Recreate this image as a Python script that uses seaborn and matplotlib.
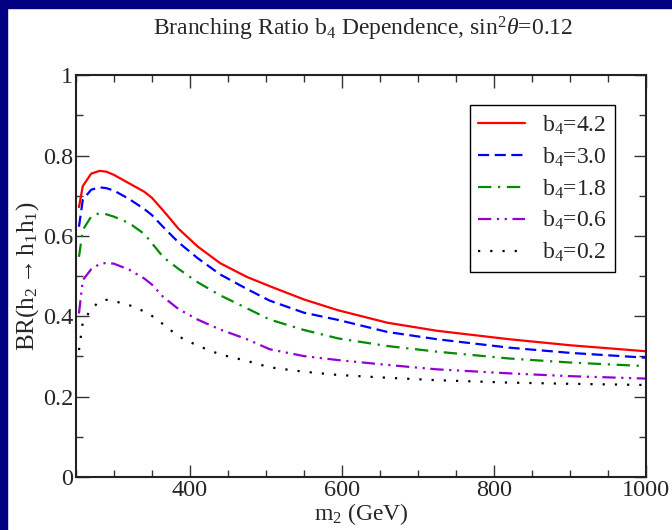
import numpy as np
import pandas as pd
import matplotlib
matplotlib.use("Agg")
import matplotlib.pyplot as plt
from matplotlib.patches import Rectangle
from matplotlib.ticker import MultipleLocator, FuncFormatter
import seaborn as sns

# m2 (GeV) grid shared by all curves
m2 = [254, 259, 270, 281, 290, 300, 320, 340, 350, 365, 385, 410, 440, 475,
      505, 550, 595, 660, 725, 820, 900, 1000]

# BR(h2 -> h1 h1)
br_42 = [0.672, 0.724, 0.755, 0.762, 0.760, 0.752, 0.731, 0.710, 0.695, 0.663, 0.618,
         0.574, 0.532, 0.498, 0.475, 0.442, 0.415, 0.384, 0.364, 0.343, 0.328, 0.313]
br_30 = [0.623, 0.690, 0.715, 0.721, 0.719, 0.713, 0.692, 0.667, 0.652, 0.622, 0.584,
         0.545, 0.504, 0.468, 0.439, 0.409, 0.391, 0.361, 0.343, 0.322, 0.309, 0.297]
br_18 = [0.548, 0.615, 0.648, 0.657, 0.654, 0.648, 0.632, 0.605, 0.582, 0.547, 0.518,
         0.485, 0.452, 0.420, 0.392, 0.366, 0.345, 0.326, 0.312, 0.295, 0.285, 0.276]
br_06 = [0.407, 0.490, 0.517, 0.530, 0.533, 0.531, 0.516, 0.494, 0.479, 0.448, 0.418,
         0.392, 0.367, 0.343, 0.318, 0.301, 0.291, 0.279, 0.268, 0.258, 0.251, 0.245]
br_02 = [0.316, 0.385, 0.418, 0.437, 0.441, 0.438, 0.428, 0.412, 0.401, 0.380, 0.350,
         0.327, 0.305, 0.289, 0.273, 0.262, 0.254, 0.247, 0.241, 0.235, 0.232, 0.229]

labels = ["b$_4$=4.2", "b$_4$=3.0", "b$_4$=1.8", "b$_4$=0.6", "b$_4$=0.2"]
series = [br_42, br_30, br_18, br_06, br_02]
colors = ["#ff0000", "#0000ff", "#008b00", "#9400d3", "#000000"]
dashes = ["-", (0, (5, 2.5)), (0, (6, 3, 1, 3)), (0, (6, 2.5, 1, 2.5, 1, 2.5)), (0, (1, 4.5))]

sns.set_style("ticks")
plt.rcParams["font.family"] = ["Liberation Serif", "DejaVu Serif"]
plt.rcParams["mathtext.fontset"] = "custom"
plt.rcParams["mathtext.rm"] = "Liberation Serif"
plt.rcParams["mathtext.it"] = "Liberation Serif:italic"

fig = plt.figure(figsize=(6.72, 5.30), dpi=100)
ax = fig.add_axes([0.113, 0.1, 0.848, 0.758])

for lab, ys, c, ls in zip(labels, series, colors, dashes):
    df = pd.DataFrame({"m2": m2, "br": ys})
    sns.lineplot(data=df, x="m2", y="br", ax=ax, color=c, linestyle=ls,
                 linewidth=1.6, label=lab)

ax.set_xlim(250, 1000)
ax.set_ylim(0, 1)
ax.xaxis.set_major_locator(MultipleLocator(200))
ax.xaxis.set_minor_locator(MultipleLocator(50))
ax.yaxis.set_major_locator(MultipleLocator(0.2))
ax.yaxis.set_minor_locator(MultipleLocator(0.1))
ax.yaxis.set_major_formatter(FuncFormatter(lambda v, p: "%g" % round(v, 2)))
ax.tick_params(which="both", direction="in", top=True, right=True,
               labelsize=17.5, width=1, color="#333333")
ax.tick_params(which="major", length=9, pad=2)
ax.tick_params(which="minor", length=5)
for s in ax.spines.values():
    s.set_linewidth(1.5)
    s.set_color("#222222")

ax.set_xlabel("m$_2$ (GeV)", fontsize=17, labelpad=0)
ax.set_ylabel(r"BR(h$_2$$\rightarrow$h$_1$h$_1$)", fontsize=18, labelpad=1)
fig.text(0.54, 0.945, r"Branching Ratio b$_4$ Dependence, sin$^2\theta$=0.12",
         ha="center", va="center", fontsize=17)

leg = ax.legend(loc="upper right", bbox_to_anchor=(0.946, 0.925), borderaxespad=0,
                fontsize=17, frameon=True, fancybox=False, edgecolor="black",
                framealpha=1, handlelength=2.0, labelspacing=0.36, borderpad=0.35,
                handletextpad=0.7)
leg.get_frame().set_linewidth(1.0)

# navy frame strips on the left and top edge
fig.patches.append(Rectangle((0, 0), 7 / 672, 1, transform=fig.transFigure,
                             color="#000080", zorder=5))
fig.patches.append(Rectangle((0, 1 - 8 / 530), 1, 8 / 530, transform=fig.transFigure,
                             color="#000080", zorder=5))

fig.savefig("out.png", dpi=100)
